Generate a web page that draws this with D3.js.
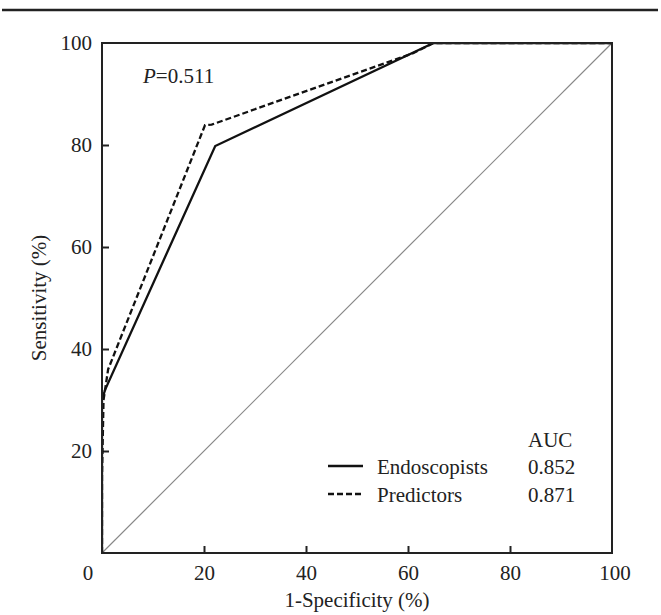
<!DOCTYPE html>
<html>
<head>
<meta charset="utf-8">
<script src="https://cdn.jsdelivr.net/npm/d3@7"></script>
<style>
  body { margin: 0; background: #fff; }
  svg text { font-family: "Liberation Serif", "DejaVu Serif", serif; fill: #222; }
</style>
</head>
<body>
<div class="chart"></div>
<script>
// chart values
var endoFpr = [0, 0, 0.6, 22.2, 65, 100];
var endoTpr = [0, 30, 32, 79.8, 100, 100];
var predFpr = [0, 0, 0.3, 1.2, 20.2, 21.5, 61, 65, 100];
var predTpr = [0, 15, 30, 36, 83.9, 84, 98, 100, 100];
var diagonal = [0, 100];
var tickValues = [20, 40, 60, 80];
var seriesNames = ["Endoscopists", "Predictors"];
var aucValues = ["0.852", "0.871"];
var pValue = "0.511";

// svg params
var svgWidth = 661;
var svgHeight = 615;
var margin = { top: 43, right: 49, bottom: 62, left: 102 };
var width = svgWidth - margin.left - margin.right;
var height = svgHeight - margin.top - margin.bottom;
var fontSize = 21;
var serif = '"Liberation Serif", "DejaVu Serif", serif';

var svg = d3.select(".chart")
  .append("svg")
  .attr("width", svgWidth)
  .attr("height", svgHeight)
  .attr("font-family", serif);

// rule at the top of the figure
svg.append("line")
  .attr("x1", 2).attr("x2", 658)
  .attr("y1", 10).attr("y2", 10)
  .attr("stroke", "#222")
  .attr("stroke-width", 2.5);

var chartGroup = svg.append("g")
  .attr("transform", `translate(${margin.left}, ${margin.top})`);

var xScale = d3.scaleLinear().domain([0, 100]).range([0, width]);
var yScale = d3.scaleLinear().domain([0, 100]).range([height, 0]);

chartGroup.append("clipPath")
  .attr("id", "plotClip")
  .append("rect")
  .attr("width", width)
  .attr("height", height);

// axes with inward ticks
var bottomAxis = d3.axisBottom(xScale).tickValues(tickValues).tickSize(-7).tickPadding(12);
var leftAxis = d3.axisLeft(yScale).tickValues(tickValues.concat([100])).tickSize(-7).tickPadding(10);

var xAxisG = chartGroup.append("g")
  .attr("transform", `translate(0, ${height})`)
  .call(bottomAxis);
var yAxisG = chartGroup.append("g").call(leftAxis);

[xAxisG, yAxisG].forEach(function(g) {
  g.attr("font-family", serif).attr("font-size", fontSize);
  g.select(".domain").remove();
  g.selectAll("line").attr("stroke", "#222").attr("stroke-width", 2);
  g.selectAll("text").attr("fill", "#222");
});
// the 100 on y has no tick (corner)
yAxisG.selectAll(".tick").filter(d => d === 100).select("line").remove();

// extra x labels: origin and 100
chartGroup.append("text")
  .attr("x", xScale(0) - 14)
  .attr("y", height + 27)
  .attr("text-anchor", "middle")
  .attr("font-size", fontSize)
  .text("0");
chartGroup.append("text")
  .attr("x", xScale(100) + 3)
  .attr("y", height + 27)
  .attr("text-anchor", "middle")
  .attr("font-size", fontSize)
  .text("100");

// reference diagonal
chartGroup.append("line")
  .attr("x1", xScale(diagonal[0])).attr("y1", yScale(diagonal[0]))
  .attr("x2", xScale(diagonal[1])).attr("y2", yScale(diagonal[1]))
  .attr("stroke", "#888")
  .attr("stroke-width", 1.2);

var line = d3.line()
  .x(d => xScale(d[0]))
  .y(d => yScale(d[1]));

var plotArea = chartGroup.append("g").attr("clip-path", "url(#plotClip)");

plotArea.append("path")
  .datum(d3.zip(endoFpr, endoTpr))
  .attr("d", line)
  .attr("fill", "none")
  .attr("stroke", "#111")
  .attr("stroke-width", 2.3);

plotArea.append("path")
  .datum(d3.zip(predFpr, predTpr))
  .attr("d", line)
  .attr("fill", "none")
  .attr("stroke", "#111")
  .attr("stroke-width", 2.3)
  .attr("stroke-dasharray", "6,3");

// frame
chartGroup.append("rect")
  .attr("width", width)
  .attr("height", height)
  .attr("fill", "none")
  .attr("stroke", "#222")
  .attr("stroke-width", 2);

// P value
var pText = chartGroup.append("text")
  .attr("x", 41)
  .attr("y", 40)
  .attr("font-size", fontSize);
pText.append("tspan").attr("font-style", "italic").text("P");
pText.append("tspan").text("=" + pValue);

// legend
var legendX = 226; // relative to plot
var legendRows = [423, 451];
chartGroup.append("text")
  .attr("x", 426)
  .attr("y", 404)
  .attr("font-size", fontSize)
  .text("AUC");

seriesNames.forEach(function(name, i) {
  var y = legendRows[i];
  chartGroup.append("line")
    .attr("x1", legendX).attr("x2", legendX + 35)
    .attr("y1", y).attr("y2", y)
    .attr("stroke", "#111")
    .attr("stroke-width", 2.3)
    .attr("stroke-dasharray", i === 1 ? "6,3" : null);
  chartGroup.append("text")
    .attr("x", legendX + 49)
    .attr("y", y + 7.5)
    .attr("font-size", fontSize)
    .text(name);
  chartGroup.append("text")
    .attr("x", 426)
    .attr("y", y + 7.5)
    .attr("font-size", fontSize)
    .text(aucValues[i]);
});

// axis titles
chartGroup.append("text")
  .attr("transform", `translate(${width / 2}, ${height + 54})`)
  .attr("text-anchor", "middle")
  .attr("font-size", fontSize)
  .text("1-Specificity (%)");

chartGroup.append("text")
  .attr("transform", `translate(-56, ${height / 2}) rotate(-90)`)
  .attr("text-anchor", "middle")
  .attr("font-size", fontSize)
  .text("Sensitivity (%)");
</script>
</body>
</html>
